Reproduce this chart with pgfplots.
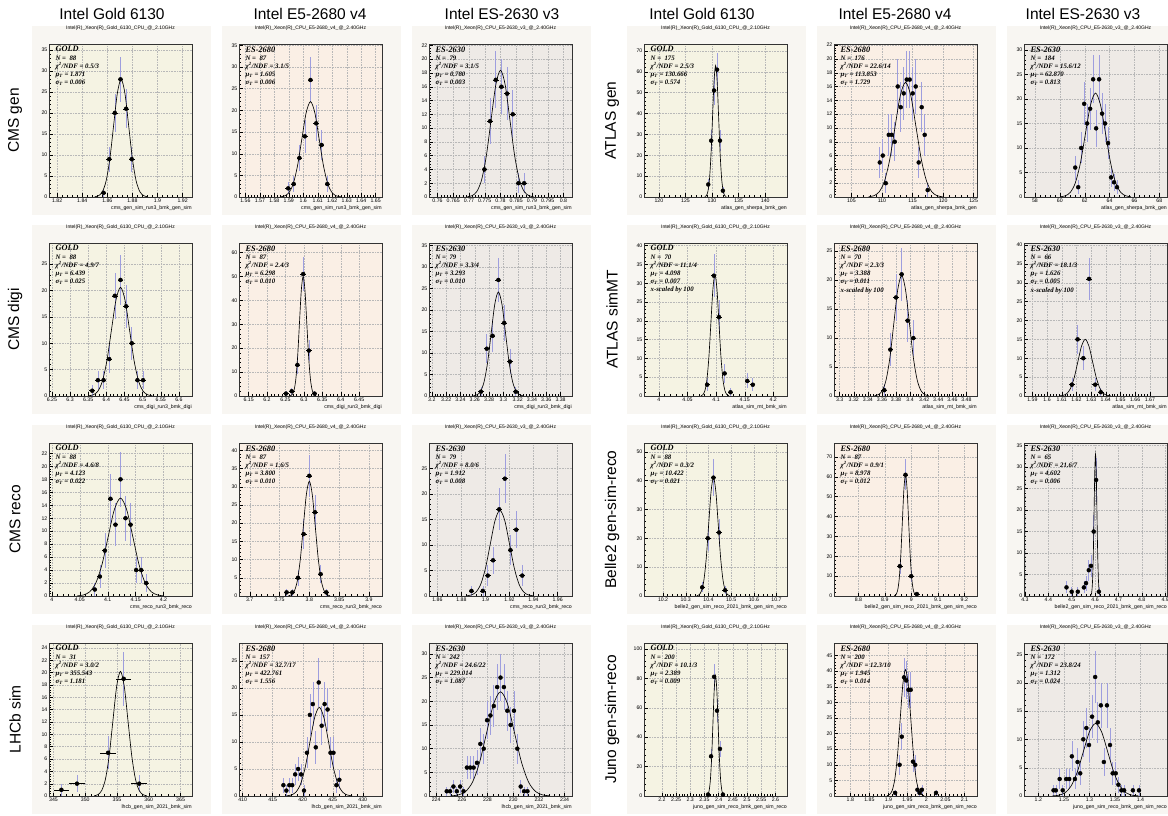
\documentclass[border=0pt]{standalone}
\usepackage{fontspec}
\setmainfont{Liberation Sans}
\newfontfamily\tnr{Liberation Serif}
\usepackage{pgfplots}
\usepackage{pgfplotstable}
\pgfplotsset{compat=1.18}

\definecolor{canv}{RGB}{248,246,242}
\definecolor{bgG}{RGB}{245,243,227}
\definecolor{bgE}{RGB}{250,239,229}
\definecolor{bgS}{RGB}{238,234,230}
\definecolor{ebar}{RGB}{158,158,222}

\newcommand{\ttlG}{Intel(R)\_Xeon(R)\_Gold\_6130\_CPU\_@\_2.10GHz}
\newcommand{\ttlE}{Intel(R)\_Xeon(R)\_CPU\_E5-2680\_v4\_@\_2.40GHz}
\newcommand{\ttlS}{Intel(R)\_Xeon(R)\_CPU\_E5-2630\_v3\_@\_2.40GHz}

\pgfplotsset{
 panel/.style={
  scale only axis, width=143pt, height=153pt, anchor=south west,
  axis background/.style={fill=#1},
  ymin=0,
  tick align=inside, xtick pos=left, ytick pos=left,
  major tick length=3.5pt, minor tick length=1.8pt,
  minor x tick num=4, minor y tick num=4,
  xmajorgrids, ymajorgrids,
  major grid style={line width=0.3pt, black!28, dash pattern=on 0.5pt off 1.1pt},
  axis line style={line width=0.4pt, black!80},
  tick style={line width=0.3pt, black},
  ticklabel style={font=\fontsize{5.2}{6}\selectfont, inner sep=1.5pt},
  /pgf/number format/assume math mode=true,
  /pgf/number format/fixed, /pgf/number format/precision=3,
  scaled ticks=false,
  xlabel style={at={(axis description cs:1,0)}, anchor=north east, yshift=-8.5pt, inner sep=0pt, font=\fontsize{5.2}{6}\selectfont},
  title style={at={(axis description cs:0.5,1)}, anchor=south, yshift=7pt, inner sep=0pt, font=\fontsize{5}{5.5}\selectfont},
 },
 fit/.style={black, line width=0.65pt, smooth, mark=none},
}

\newcommand{\pdata}[2]{%
 \addplot[only marks, mark=none, forget plot, error bars/.cd, y dir=both, y explicit, error mark=none, error bar style={draw=ebar, line width=0.65pt}] table[x index=0, y index=1, y error index=2] {#1};
 \addplot[black, only marks, mark=*, mark size=1.05pt, forget plot, error bars/.cd, x dir=both, x fixed=#2, error mark=none, error bar style={draw=black, line width=0.45pt}] table[x index=0, y index=1] {#1};
}
\newcommand{\stats}[6]{%
 \node[anchor=north west, align=left, inner sep=0pt, font=\tnr\bfseries\itshape\fontsize{6.8}{8.2}\selectfont] at (rel axis cs:0.045,0.985) {{\fontsize{8.3}{8.5}\selectfont #1}\\N =\ \ #2\\χ\textsuperscript{2}/NDF = #3\\μ\textsubscript{T} = #4\\σ\textsubscript{T} = #5#6};
}

% ---------------- data ----------------
\pgfplotstableread[row sep=\\]{x y e\\ 1.8570 1 1\\ 1.8615 9 3\\ 1.8660 20 4.472\\ 1.8705 28 5.292\\ 1.8750 21 4.583\\ 1.8795 9 3\\}\tAa
\pgfplotstableread[row sep=\\]{x y e\\ 1.5896 2 1.414\\ 1.5934 3 1.732\\ 1.5973 9 3\\ 1.6011 14 3.742\\ 1.6050 27 5.196\\ 1.6089 17 4.123\\ 1.6127 12 3.464\\ 1.6166 3 1.732\\}\tAb
\pgfplotstableread[row sep=\\]{x y e\\ 0.7749 4 2\\ 0.7767 11 3.317\\ 0.7785 17 4.123\\ 0.7803 16 4\\ 0.7821 15 3.873\\ 0.7839 12 3.464\\ 0.7857 2 1.414\\ 0.7875 2 1.414\\}\tAc
\pgfplotstableread[row sep=\\]{x y e\\ 129.29 6 2.449\\ 129.84 27 5.196\\ 130.39 51 7.141\\ 130.94 61 7.810\\ 131.49 27 5.196\\ 132.04 3 1.732\\}\tBa
\pgfplotstableread[row sep=\\]{x y e\\ 109.64 5 2.236\\ 110.13 6 2.449\\ 110.62 2 1.414\\ 111.11 9 3\\ 111.60 9 3\\ 112.09 8 2.828\\ 112.58 16 4\\ 113.07 13 3.606\\ 113.56 15 3.873\\ 114.05 17 4.123\\ 114.54 17 4.123\\ 115.03 15 3.873\\ 115.52 16 4\\ 116.01 5 2.236\\ 116.50 13 3.606\\ 116.99 9 3\\ 117.48 1 1\\}\tBb
\pgfplotstableread[row sep=\\]{x y e\\ 61.24 6 2.449\\ 61.48 2 1.414\\ 61.72 10 3.162\\ 61.96 19 4.359\\ 62.20 15 3.873\\ 62.44 18 4.243\\ 62.68 24 4.899\\ 62.92 14 3.742\\ 63.16 24 4.899\\ 63.40 17 4.123\\ 63.64 15 3.873\\ 63.88 11 3.317\\ 64.12 4 2\\ 64.36 3 1.732\\ 64.60 2 1.414\\}\tBc
\pgfplotstableread[row sep=\\]{x y e\\ 6.3612 1 1\\ 6.3768 3 1.732\\ 6.3923 3 1.732\\ 6.4079 7 2.646\\ 6.4234 19 4.359\\ 6.4390 22 4.690\\ 6.4546 17 4.123\\ 6.4701 10 3.162\\ 6.4857 3 1.732\\ 6.5012 3 1.732\\}\tCa
\pgfplotstableread[row sep=\\]{x y e\\ 6.2514 1 1\\ 6.2670 2 1.414\\ 6.2825 13 3.606\\ 6.2980 51 7.141\\ 6.3135 19 4.359\\ 6.3290 1 1\\}\tCb
\pgfplotstableread[row sep=\\]{x y e\\ 3.2687 1 1\\ 3.2768 11 3.317\\ 3.2849 14 3.742\\ 3.2930 27 5.196\\ 3.3011 17 4.123\\ 3.3092 8 2.828\\ 3.3173 1 1\\}\tCc
\pgfplotstableread[row sep=\\]{x y e\\ 4.0844 3 1.732\\ 4.0961 32 5.657\\ 4.1051 21 4.583\\ 4.1149 6 2.449\\ 4.1253 1 1\\ 4.1545 4 2\\ 4.1642 3 1.732\\}\tDa
\pgfplotstableread[row sep=\\]{x y e\\ 3.3634 1 1\\ 3.3720 8 2.828\\ 3.3800 17 4.123\\ 3.3880 21 4.583\\ 3.3965 13 3.606\\ 3.4046 10 3.162\\}\tDb
\pgfplotstableread[row sep=\\]{x y e\\ 1.6169 3 1.732\\ 1.6208 15 3.873\\ 1.6247 10 3.162\\ 1.6286 31 5.568\\ 1.6328 3 1.732\\ 1.6366 1 1\\}\tDc
\pgfplotstableread[row sep=\\]{x y e\\ 4.077 1 1\\ 4.086 3 1.732\\ 4.095 7 2.646\\ 4.105 15 3.873\\ 4.114 11 3.317\\ 4.123 18 4.243\\ 4.132 12 3.464\\ 4.141 11 3.317\\ 4.151 4 2\\ 4.160 4 2\\ 4.169 2 1.414\\}\tEa
\pgfplotstableread[row sep=\\]{x y e\\ 3.7619 1 1\\ 3.7714 1 1\\ 3.7810 5 2.236\\ 3.7905 17 4.123\\ 3.8000 33 5.745\\ 3.8095 23 4.796\\ 3.8190 6 2.449\\ 3.8286 1 1\\}\tEb
\pgfplotstableread[row sep=\\]{x y e\\ 1.8883 1 1\\ 1.8978 1 1\\ 1.9019 4 2\\ 1.9063 7 2.646\\ 1.9114 17 4.123\\ 1.9161 23 4.796\\ 1.9208 9 3\\ 1.9256 13 3.606\\ 1.9306 4 2\\}\tEc
\pgfplotstableread[row sep=\\]{x y e\\ 10.3725 3 1.732\\ 10.3972 20 4.472\\ 10.4220 41 6.403\\ 10.4468 22 4.690\\ 10.4732 2 1.414\\}\tFa
\pgfplotstableread[row sep=\\]{x y e\\ 8.9566 15 3.873\\ 8.9780 61 7.810\\ 8.9994 10 3.162\\ 9.0209 1 1\\}\tFb
\pgfplotstableread[row sep=\\]{x y e\\ 4.4778 2 1.414\\ 4.5000 1 1\\ 4.5262 1 1\\ 4.5523 2 1.414\\ 4.5615 3 1.732\\ 4.5732 6 2.449\\ 4.5824 7 2.646\\ 4.5942 15 3.873\\ 4.6046 27 5.196\\ 4.6164 1 1\\}\tFc
\pgfplotstableread[row sep=\\]{x y e\\ 346.25 1 1\\ 348.70 2 1.414\\ 353.60 7 2.646\\ 356.05 19 4.359\\ 358.50 2 1.414\\}\tGa
\pgfplotstableread[row sep=\\]{x y e\\ 416.79 2 1.414\\ 417.28 1 1\\ 417.77 2 1.414\\ 418.26 2 1.414\\ 418.75 4 2\\ 419.24 5 2.236\\ 419.73 4 2\\ 420.22 1 1\\ 420.71 8 2.828\\ 421.20 15 3.873\\ 421.69 17 4.123\\ 422.18 9 3\\ 422.67 21 4.583\\ 423.16 13 3.606\\ 423.65 17 4.123\\ 424.14 16 4\\ 424.63 8 2.828\\ 425.12 8 2.828\\ 425.61 2 1.414\\ 426.10 3 1.732\\}\tGb
\pgfplotstableread[row sep=\\]{x y e\\ 224.820 1 1\\ 225.082 1 1\\ 225.344 2 1.414\\ 225.606 1 1\\ 225.868 2 1.414\\ 226.130 1 1\\ 226.392 6 2.449\\ 226.654 6 2.449\\ 226.916 6 2.449\\ 227.178 7 2.646\\ 227.440 11 3.317\\ 227.702 10 3.162\\ 227.964 16 4\\ 228.226 17 4.123\\ 228.488 19 4.359\\ 228.750 23 4.796\\ 229.012 25 5\\ 229.274 23 4.796\\ 229.536 18 4.243\\ 229.798 15 3.873\\ 230.060 18 4.243\\ 230.322 10 3.162\\ 230.584 2 1.414\\ 230.846 1 1\\ 231.108 1 1\\}\tGc
\pgfplotstableread[row sep=\\]{x y e\\ 2.3628 1 1\\ 2.3733 27 5.196\\ 2.3838 81 9\\ 2.3942 58 7.616\\ 2.4047 32 5.657\\ 2.4152 1 1\\}\tHa
\pgfplotstableread[row sep=\\]{x y e\\ 1.9176 1 1\\ 1.9294 10 3.162\\ 1.9352 19 4.359\\ 1.9411 38 6.164\\ 1.9470 37 6.083\\ 1.9528 34 5.831\\ 1.9587 34 5.831\\ 1.9646 11 3.317\\ 1.9704 10 3.162\\ 1.9763 2 1.414\\ 1.9821 1 1\\ 1.9880 2 1.414\\ 2.0252 1 1\\}\tHb
\pgfplotstableread[row sep=\\]{x y e\\ 1.2298 1 1\\ 1.2343 1 1\\ 1.2418 3 1.732\\ 1.2478 1 1\\ 1.2545 3 1.732\\ 1.2605 3 1.732\\ 1.2657 7 2.646\\ 1.2717 3 1.732\\ 1.2769 6 2.449\\ 1.2821 4 2\\ 1.2881 10 3.162\\ 1.2941 12 3.464\\ 1.2993 9 3\\ 1.3053 14 3.742\\ 1.3113 21 4.583\\ 1.3165 13 3.606\\ 1.3225 16 4\\ 1.3284 6 2.449\\ 1.3344 16 4\\ 1.3404 9 3\\ 1.3456 4 2\\ 1.3516 4 2\\ 1.3568 2 1.414\\ 1.3628 1 1\\ 1.3680 1 1\\ 1.3852 1 1\\ 1.3971 1 1\\}\tHc

\begin{document}
\begin{tikzpicture}[x=1pt,y=1pt]
\foreach \cx in {49,239,429,644,834,1024}{\foreach \cy in {618,419,219,19}{\fill[canv] (\cx-17,\cy-18) rectangle ++(179,189);}}

\begin{scope}[every node/.style={font=\fontsize{15.5}{17}\selectfont}]
\node at (112,801) {Intel Gold 6130};
\node at (310,801) {Intel E5-2680 v4};
\node at (502,801) {Intel ES-2630 v3};
\node at (702,801) {Intel Gold 6130};
\node at (895,801) {Intel E5-2680 v4};
\node at (1083,801) {Intel ES-2630 v3};
\node[rotate=90] at (15,694.5) {CMS gen};
\node[rotate=90] at (15,495.5) {CMS digi};
\node[rotate=90] at (15,295.5) {CMS reco};
\node[rotate=90] at (15,95.5) {LHCb sim};
\node[rotate=90] at (612,694.5) {ATLAS gen};
\node[rotate=90] at (612,495.5) {ATLAS simMT};
\node[rotate=90] at (612,295.5) {Belle2 gen-sim-reco};
\node[rotate=90] at (612,95.5) {Juno gen-sim-reco};
\end{scope}

% ===== Row 1 left: CMS gen =====
\begin{axis}[panel=bgG, at={(49pt,618pt)}, xmin=1.8135, xmax=1.9275, ymax=36.4, xtick={1.82,1.84,1.86,1.88,1.9,1.92}, ytick={0,5,...,35}, title={\ttlG}, xlabel={cms\_gen\_sim\_run3\_bmk\_gen\_sim}]
\pdata{\tAa}{0.00225}
\addplot[fit] coordinates {(1.850,0.06)(1.853,0.31)(1.856,1.23)(1.859,3.79)(1.862,9.09)(1.865,16.98)(1.868,24.71)(1.871,28)(1.874,24.71)(1.877,16.98)(1.880,9.09)(1.883,3.79)(1.886,1.23)(1.889,0.31)(1.892,0.06)};
\stats{GOLD}{88}{0.5/3}{1.871}{0.006}{}
\end{axis}
\begin{axis}[panel=bgE, at={(239pt,618pt)}, xmin=1.5556, xmax=1.6544, ymax=35.3, xtick={1.56,1.57,1.58,1.59,1.6,1.61,1.62,1.63,1.64,1.65}, ytick={0,5,...,35}, title={\ttlE}, xlabel={cms\_gen\_sim\_run3\_bmk\_gen\_sim}]
\pdata{\tAb}{0.0019}
\addplot[fit] coordinates {(1.584,0.05)(1.587,0.24)(1.590,0.97)(1.593,2.98)(1.596,7.14)(1.599,13.34)(1.602,19.42)(1.605,22)(1.608,19.42)(1.611,13.34)(1.614,7.14)(1.617,2.98)(1.620,0.97)(1.623,0.24)(1.626,0.05)};
\stats{ES-2680}{87}{3.1/5}{1.605}{0.006}{}
\end{axis}
\begin{axis}[panel=bgS, at={(429pt,618pt)}, xmin=0.7573, xmax=0.8027, ymax=22.2, xtick={0.76,0.765,0.77,0.775,0.78,0.785,0.79,0.795,0.8}, ytick={0,2,...,22}, title={\ttlS}, xlabel={cms\_gen\_sim\_run3\_bmk\_gen\_sim}]
\pdata{\tAc}{0.0009}
\addplot[fit] coordinates {(0.7695,0.04)(0.7710,0.20)(0.7725,0.81)(0.7740,2.49)(0.7755,5.97)(0.7770,11.16)(0.7785,16.24)(0.7800,18.4)(0.7815,16.24)(0.7830,11.16)(0.7845,5.97)(0.7860,2.49)(0.7875,0.81)(0.7890,0.20)(0.7905,0.04)};
\stats{ES-2630}{79}{3.1/5}{0.780}{0.003}{}
\end{axis}

% ===== Row 1 right: ATLAS gen =====
\begin{axis}[panel=bgG, at={(644pt,618pt)}, xmin=117.2, xmax=144.1, ymax=73.3, xtick={120,125,130,135,140}, ytick={0,10,...,70}, title={\ttlG}, xlabel={atlas\_gen\_sherpa\_bmk\_gen}]
\pdata{\tBa}{0.27}
\addplot[fit] coordinates {(128.657,0.14)(128.944,0.70)(129.231,2.77)(129.518,8.52)(129.805,20.46)(130.092,38.21)(130.379,55.6)(130.666,63)(130.953,55.6)(131.240,38.21)(131.527,20.46)(131.814,8.52)(132.101,2.77)(132.388,0.70)(132.675,0.14)};
\stats{GOLD}{175}{2.5/3}{130.666}{0.574}{}
\end{axis}
\begin{axis}[panel=bgE, at={(834pt,618pt)}, xmin=102.15, xmax=125.55, ymax=22.15, xtick={105,110,115,120,125}, ytick={0,2,...,22}, title={\ttlE}, xlabel={atlas\_gen\_sherpa\_bmk\_gen}]
\pdata{\tBb}{0.245}
\addplot[fit] coordinates {(107.800,0.04)(108.666,0.18)(109.530,0.73)(110.395,2.25)(111.260,5.39)(112.124,10.07)(112.989,14.65)(113.853,16.6)(114.718,14.65)(115.582,10.07)(116.447,5.39)(117.311,2.25)(118.176,0.73)(119.040,0.18)(119.905,0.04)};
\stats{ES-2680}{176}{22.6/14}{113.853}{1.729}{}
\end{axis}
\begin{axis}[panel=bgS, at={(1024pt,618pt)}, xmin=57.12, xmax=68.62, ymax=31.2, xtick={58,60,62,64,66,68}, ytick={0,5,...,30}, title={\ttlS}, xlabel={atlas\_gen\_sherpa\_bmk\_gen}]
\pdata{\tBc}{0.12}
\addplot[fit] coordinates {(60.025,0.05)(60.431,0.24)(60.838,0.93)(61.244,2.87)(61.651,6.88)(62.057,12.86)(62.464,18.71)(62.870,21.2)(63.277,18.71)(63.683,12.86)(64.090,6.88)(64.496,2.87)(64.903,0.93)(65.309,0.24)(65.716,0.05)};
\stats{ES-2630}{184}{15.6/12}{62.870}{0.813}{}
\end{axis}

% ===== Row 2 left: CMS digi =====
\begin{axis}[panel=bgG, at={(49pt,419pt)}, xmin=6.242, xmax=6.636, ymax=29, xtick={6.25,6.3,6.35,6.4,6.45,6.5,6.55,6.6}, ytick={0,5,...,25}, title={\ttlG}, xlabel={cms\_digi\_run3\_bmk\_digi}]
\pdata{\tCa}{0.0078}
\addplot[fit] coordinates {(6.3515,0.05)(6.364,0.23)(6.3765,0.90)(6.389,2.79)(6.4015,6.69)(6.414,12.49)(6.4265,18.18)(6.439,20.6)(6.4515,18.18)(6.464,12.49)(6.4765,6.69)(6.489,2.79)(6.5015,0.90)(6.514,0.23)(6.5265,0.05)};
\stats{GOLD}{88}{4.9/7}{6.439}{0.025}{}
\end{axis}
\begin{axis}[panel=bgE, at={(239pt,419pt)}, xmin=6.124, xmax=6.512, ymax=64, xtick={6.15,6.2,6.25,6.3,6.35,6.4,6.45}, ytick={0,10,...,60}, title={\ttlE}, xlabel={cms\_digi\_run3\_bmk\_digi}]
\pdata{\tCb}{0.0078}
\addplot[fit] coordinates {(6.263,0.11)(6.268,0.56)(6.273,2.20)(6.278,6.77)(6.283,16.24)(6.288,30.33)(6.293,44.13)(6.298,50)(6.303,44.13)(6.308,30.33)(6.313,16.24)(6.318,6.77)(6.323,2.20)(6.328,0.56)(6.333,0.11)};
\stats{ES-2680}{87}{2.4/3}{6.298}{0.010}{}
\end{axis}
\begin{axis}[panel=bgS, at={(429pt,419pt)}, xmin=3.196, xmax=3.396, ymax=35.6, xtick={3.2,3.22,3.24,3.26,3.28,3.3,3.32,3.34,3.36,3.38}, ytick={0,5,...,35}, title={\ttlS}, xlabel={cms\_digi\_run3\_bmk\_digi}]
\pdata{\tCc}{0.004}
\addplot[fit] coordinates {(3.258,0.05)(3.263,0.27)(3.268,1.06)(3.273,3.27)(3.278,7.86)(3.283,14.68)(3.288,21.36)(3.293,24.2)(3.298,21.36)(3.303,14.68)(3.308,7.86)(3.313,3.27)(3.318,1.06)(3.323,0.27)(3.328,0.05)};
\stats{ES-2630}{79}{3.3/4}{3.293}{0.010}{}
\end{axis}

% ===== Row 2 right: ATLAS simMT =====
\begin{axis}[panel=bgG, at={(644pt,419pt)}, xmin=3.974, xmax=4.224, ymax=40.7, xtick={4,4.05,4.1,4.15,4.2}, ytick={0,5,...,40}, title={\ttlG}, xlabel={atlas\_sim\_mt\_bmk\_sim}]
\pdata{\tDa}{0.0045}
\addplot[fit] coordinates {(4.0735,0.07)(4.077,0.36)(4.0805,1.42)(4.084,4.37)(4.0875,10.49)(4.091,19.59)(4.0945,28.5)(4.098,32.3)(4.1015,28.5)(4.105,19.59)(4.1085,10.49)(4.112,4.37)(4.1155,1.42)(4.119,0.36)(4.1225,0.07)};
\stats{GOLD}{70}{11.1/4}{4.098}{0.007}{\\x-scaled by 100}
\end{axis}
\begin{axis}[panel=bgE, at={(834pt,419pt)}, xmin=3.292, xmax=3.495, ymax=26.4, xtick={3.3,3.32,3.34,3.36,3.38,3.4,3.42,3.44,3.46,3.48}, ytick={0,5,...,25}, title={\ttlE}, xlabel={atlas\_sim\_mt\_bmk\_sim}]
\pdata{\tDb}{0.004}
\addplot[fit] coordinates {(3.3495,0.05)(3.355,0.23)(3.3605,0.91)(3.366,2.81)(3.3715,6.75)(3.377,12.62)(3.3825,18.36)(3.388,20.8)(3.3935,18.36)(3.399,12.62)(3.4045,6.75)(3.410,2.81)(3.4155,0.91)(3.421,0.23)(3.4265,0.05)};
\stats{ES-2680}{70}{2.3/3}{3.388}{0.011}{\\x-scaled by 100}
\end{axis}
\begin{axis}[panel=bgS, at={(1024pt,419pt)}, xmin=1.5843, xmax=1.6817, ymax=40.5, xtick={1.59,1.6,1.61,1.62,1.63,1.64,1.65,1.66,1.67}, ytick={0,5,...,40}, title={\ttlS}, xlabel={atlas\_sim\_mt\_bmk\_sim}]
\pdata{\tDc}{0.002}
\addplot[fit] coordinates {(1.6085,0.03)(1.611,0.17)(1.6135,0.66)(1.616,2.03)(1.6185,4.87)(1.621,9.10)(1.6235,13.24)(1.626,15)(1.6285,13.24)(1.631,9.10)(1.6335,4.87)(1.636,2.03)(1.6385,0.66)(1.641,0.17)(1.6435,0.03)};
\stats{ES-2630}{66}{18.1/3}{1.626}{0.005}{\\x-scaled by 100}
\end{axis}

% ===== Row 3 left: CMS reco =====
\begin{axis}[panel=bgG, at={(49pt,219pt)}, xmin=3.995, xmax=4.251, ymax=23.6, xtick={4,4.05,4.1,4.15,4.2}, ytick={0,2,...,22}, title={\ttlG}, xlabel={cms\_reco\_run3\_bmk\_reco}]
\pdata{\tEa}{0.0046}
\addplot[fit] coordinates {(4.046,0.03)(4.057,0.17)(4.068,0.66)(4.079,2.04)(4.090,4.90)(4.101,9.16)(4.112,13.33)(4.123,15.1)(4.134,13.33)(4.145,9.16)(4.156,4.90)(4.167,2.04)(4.178,0.66)(4.189,0.17)(4.200,0.03)};
\stats{GOLD}{88}{4.6/8}{4.123}{0.022}{}
\end{axis}
\begin{axis}[panel=bgE, at={(239pt,219pt)}, xmin=3.682, xmax=3.922, ymax=42, xtick={3.7,3.75,3.8,3.85,3.9}, ytick={0,5,...,40}, title={\ttlE}, xlabel={cms\_reco\_run3\_bmk\_reco}]
\pdata{\tEb}{0.0048}
\addplot[fit] coordinates {(3.765,0.07)(3.770,0.35)(3.775,1.38)(3.780,4.26)(3.785,10.23)(3.790,19.1)(3.795,27.8)(3.800,31.5)(3.805,27.8)(3.810,19.1)(3.815,10.23)(3.820,4.26)(3.825,1.38)(3.830,0.35)(3.835,0.07)};
\stats{ES-2680}{87}{1.6/5}{3.800}{0.010}{}
\end{axis}
\begin{axis}[panel=bgS, at={(429pt,219pt)}, xmin=1.853, xmax=1.972, ymax=30, xtick={1.86,1.88,1.9,1.92,1.94,1.96}, ytick={0,5,...,25}, title={\ttlS}, xlabel={cms\_reco\_run3\_bmk\_reco}]
\pdata{\tEc}{0.0024}
\addplot[fit] coordinates {(1.884,0.04)(1.888,0.19)(1.892,0.74)(1.896,2.27)(1.900,5.45)(1.904,10.19)(1.908,14.83)(1.912,16.8)(1.916,14.83)(1.920,10.19)(1.924,5.45)(1.928,2.27)(1.932,0.74)(1.936,0.19)(1.940,0.04)};
\stats{ES-2630}{79}{8.0/6}{1.912}{0.008}{}
\end{axis}

% ===== Row 3 right: Belle2 =====
\begin{axis}[panel=bgG, at={(644pt,219pt)}, xmin=10.116, xmax=10.746, ymax=53, xtick={10.2,10.3,10.4,10.5,10.6,10.7}, ytick={0,10,...,50}, title={\ttlG}, xlabel={belle2\_gen\_sim\_reco\_2021\_bmk\_gen\_sim\_reco}]
\pdata{\tFa}{0.012}
\addplot[fit] coordinates {(10.3485,0.09)(10.359,0.46)(10.3695,1.80)(10.380,5.55)(10.3905,13.31)(10.401,24.87)(10.4115,36.18)(10.422,41)(10.4325,36.18)(10.443,24.87)(10.4535,13.31)(10.464,5.55)(10.4745,1.80)(10.485,0.46)(10.4955,0.09)};
\stats{GOLD}{88}{0.3/2}{10.422}{0.021}{}
\end{axis}
\begin{axis}[panel=bgE, at={(834pt,219pt)}, xmin=8.708, xmax=9.248, ymax=77, xtick={8.8,8.9,9,9.1,9.2}, ytick={0,10,...,70}, title={\ttlE}, xlabel={belle2\_gen\_sim\_reco\_2021\_bmk\_gen\_sim\_reco}]
\pdata{\tFb}{0.011}
\addplot[fit] coordinates {(8.936,0.13)(8.942,0.68)(8.948,2.68)(8.954,8.25)(8.960,19.81)(8.966,37.0)(8.972,53.83)(8.978,61)(8.984,53.83)(8.990,37.0)(8.996,19.81)(9.002,8.25)(9.008,2.68)(9.014,0.68)(9.020,0.13)};
\stats{ES-2680}{87}{0.9/1}{8.978}{0.012}{}
\end{axis}
\begin{axis}[panel=bgS, at={(1024pt,219pt)}, xmin=4.296, xmax=4.908, ymax=35.6, xtick={4.3,4.4,4.5,4.6,4.7,4.8,4.9}, ytick={0,5,...,35}, title={\ttlS}, xlabel={belle2\_gen\_sim\_reco\_2021\_bmk\_gen\_sim\_reco}]
\pdata{\tFc}{0.005}
\addplot[fit] coordinates {(4.581,0.07)(4.584,0.37)(4.587,1.45)(4.590,4.46)(4.593,10.72)(4.596,20.01)(4.599,29.12)(4.602,33)(4.605,29.12)(4.608,20.01)(4.611,10.72)(4.614,4.46)(4.617,1.45)(4.620,0.37)(4.623,0.07)};
\stats{ES-2630}{65}{21.6/7}{4.602}{0.006}{}
\end{axis}

% ===== Row 4 left: LHCb sim =====
\begin{axis}[panel=bgG, at={(49pt,19pt)}, xmin=344.3, xmax=366.8, ymax=24.8, xtick={345,350,355,360,365}, ytick={0,2,...,24}, title={\ttlG}, xlabel={lhcb\_gen\_sim\_2021\_bmk\_sim}]
\pdata{\tGa}{1.225}
\addplot[fit] coordinates {(351.409,0.04)(352.000,0.22)(352.590,0.89)(353.181,2.73)(353.771,6.56)(354.362,12.25)(354.953,17.83)(355.543,20.2)(356.134,17.83)(356.724,12.25)(357.315,6.56)(357.905,2.73)(358.496,0.89)(359.086,0.22)(359.677,0.04)};
\stats{GOLD}{31}{3.0/2}{355.543}{1.181}{}
\end{axis}
\begin{axis}[panel=bgE, at={(239pt,19pt)}, xmin=409.4, xmax=433.2, ymax=28.3, xtick={410,415,420,425,430}, ytick={0,5,...,25}, title={\ttlE}, xlabel={lhcb\_gen\_sim\_2021\_bmk\_sim}]
\pdata{\tGb}{0.245}
\addplot[fit] coordinates {(417.315,0.04)(418.093,0.18)(418.871,0.72)(419.649,2.22)(420.427,5.33)(421.205,9.95)(421.983,14.47)(422.761,16.4)(423.539,14.47)(424.317,9.95)(425.095,5.33)(425.873,2.22)(426.651,0.72)(427.429,0.18)(428.207,0.04)};
\stats{ES-2680}{157}{32.7/17}{422.761}{1.556}{}
\end{axis}
\begin{axis}[panel=bgS, at={(429pt,19pt)}, xmin=223.44, xmax=234.58, ymax=32.3, xtick={224,226,228,230,232,234}, ytick={0,5,...,30}, title={\ttlS}, xlabel={lhcb\_gen\_sim\_2021\_bmk\_sim}]
\pdata{\tGc}{0.131}
\addplot[fit] coordinates {(225.210,0.05)(225.753,0.24)(226.297,0.97)(226.840,2.98)(227.384,7.14)(227.927,13.34)(228.471,19.42)(229.014,22)(229.558,19.42)(230.101,13.34)(230.645,7.14)(231.188,2.98)(231.732,0.97)(232.275,0.24)(232.819,0.05)};
\stats{ES-2630}{242}{24.6/22}{229.014}{1.087}{}
\end{axis}

% ===== Row 4 right: Juno =====
\begin{axis}[panel=bgG, at={(644pt,19pt)}, xmin=2.137, xmax=2.641, ymax=104, xtick={2.2,2.25,2.3,2.35,2.4,2.45,2.5,2.55,2.6}, ytick={0,20,...,100}, title={\ttlG}, xlabel={juno\_gen\_sim\_reco\_bmk\_gen\_sim\_reco}]
\pdata{\tHa}{0.0052}
\addplot[fit] coordinates {(2.3575,0.18)(2.362,0.91)(2.3665,3.60)(2.371,11.09)(2.3755,26.63)(2.380,49.73)(2.3845,72.37)(2.389,82)(2.3935,72.37)(2.398,49.73)(2.4025,26.63)(2.407,11.09)(2.4115,3.60)(2.416,0.91)(2.4205,0.18)};
\stats{GOLD}{200}{10.1/3}{2.389}{0.009}{}
\end{axis}
\begin{axis}[panel=bgE, at={(834pt,19pt)}, xmin=1.757, xmax=2.133, ymax=49, xtick={1.8,1.85,1.9,1.95,2,2.05,2.1}, ytick={0,5,...,45}, title={\ttlE}, xlabel={juno\_gen\_sim\_reco\_bmk\_gen\_sim\_reco}]
\pdata{\tHb}{0.003}
\addplot[fit] coordinates {(1.896,0.09)(1.903,0.45)(1.910,1.78)(1.917,5.48)(1.924,13.15)(1.931,24.56)(1.938,35.74)(1.945,40.5)(1.952,35.74)(1.959,24.56)(1.966,13.15)(1.973,5.48)(1.980,1.78)(1.987,0.45)(1.994,0.09)};
\stats{ES-2680}{200}{12.3/10}{1.945}{0.014}{}
\end{axis}
\begin{axis}[panel=bgS, at={(1024pt,19pt)}, xmin=1.172, xmax=1.452, ymax=27, xtick={1.2,1.25,1.3,1.35,1.4}, ytick={0,5,...,25}, title={\ttlS}, xlabel={juno\_gen\_sim\_reco\_bmk\_gen\_sim\_reco}]
\pdata{\tHc}{0.0028}
\addplot[fit] coordinates {(1.228,0.03)(1.240,0.14)(1.252,0.56)(1.264,1.73)(1.276,4.16)(1.288,7.76)(1.300,11.3)(1.312,12.8)(1.324,11.3)(1.336,7.76)(1.348,4.16)(1.360,1.73)(1.372,0.56)(1.384,0.14)(1.396,0.03)};
\stats{ES-2630}{172}{23.8/24}{1.312}{0.024}{}
\end{axis}

\pgfresetboundingbox
\path[use as bounding box] (0,0) rectangle (1168,815);
\end{tikzpicture}
\end{document}
